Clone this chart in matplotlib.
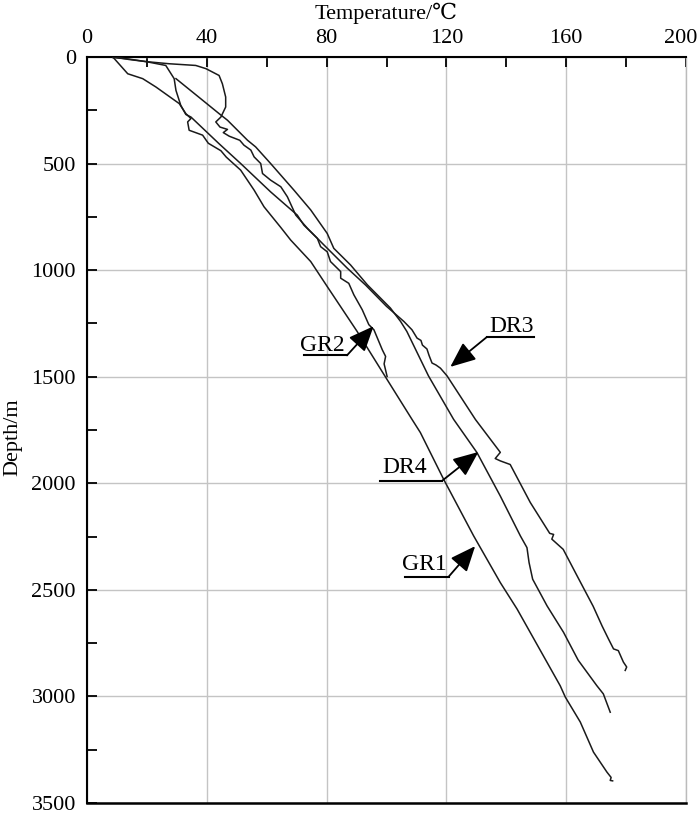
import matplotlib
matplotlib.use('Agg')
import matplotlib.pyplot as plt
import numpy as np
from matplotlib.ticker import MultipleLocator

plt.rcParams['font.family'] = ['Liberation Serif', 'DejaVu Serif', 'Noto Sans CJK SC']

# temperature (C) vs depth (m)
gr1_t = [8.6, 13.6, 18.6, 23, 30.8, 33, 34.7, 33.6, 34.1, 38.6, 40.5, 44.7, 46.5, 51.3, 55.8, 59.1,
         64.7, 68, 74.7, 80.2, 90.2, 99.6, 108.5, 111.3, 119.1, 129.1, 138, 143.6, 148, 158,
         159.7, 164.7, 169.1, 173.6, 175, 174.7, 175.5]
gr1_d = [0, 79, 102, 141, 219, 266, 289, 305, 344, 367, 405, 440, 470, 531, 625, 703,
         800, 859, 960, 1077, 1288, 1500, 1700, 1762, 1982, 2247, 2466, 2590, 2700, 2950,
         3003, 3120, 3261, 3355, 3380, 3394, 3396]

gr2_t = [8.6, 14, 19.7, 26.3, 29.1, 29.7, 31.3, 33, 34.7, 44, 51.3, 61.3, 70.2, 72.4, 76.9,
         78, 80.2, 81.3, 84.7, 84.7, 87.4, 89.1, 91.9, 94.1, 95.8, 98.6, 99.7, 99.2, 100.2]
gr2_d = [3, 10, 22, 40, 102, 157, 227, 270, 282, 406, 500, 633, 742, 789, 851,
         890, 914, 960, 1007, 1038, 1062, 1116, 1186, 1256, 1280, 1374, 1405, 1440, 1499]

dr3_t = [9, 14, 19.7, 27.4, 36.3, 39.7, 44.1, 45.2, 46.3, 46.3, 44.7, 43, 44.4, 46.9, 45.5,
         47.5, 51, 52.4, 54.7, 55.8, 58, 58.6, 61.3, 64.7, 66.9, 69.7, 73.6, 79.1, 86.9, 93,
         100, 105.8, 108.5, 110.2, 111.5, 112, 113.5, 114.2, 115.2, 116.5, 118, 120.2, 129.7,
         138, 136.3, 138, 141.3, 148, 154.5, 155.8, 155.2, 159, 163.7, 169, 172, 174.1, 175.8,
         177.4, 179.1, 180.2, 179.7]
dr3_d = [0, 12, 22, 32, 40, 55, 87, 126, 188, 235, 282, 305, 329, 340, 355,
         372, 391, 414, 437, 469, 500, 547, 578, 609, 656, 742, 804, 882, 991, 1070,
         1170, 1241, 1280, 1319, 1330, 1352, 1370, 1400, 1436, 1445, 1460, 1496, 1701,
         1855, 1884, 1895, 1912, 2090, 2235, 2240, 2262, 2310, 2436, 2577, 2670, 2730, 2777,
         2785, 2839, 2862, 2878]

dr4_t = [29.7, 37, 44.1, 46.9, 53.6, 56.3, 61.3, 69.1, 74.7, 80.2, 82.4, 88, 93.6, 101.3,
         104.7, 106.8, 114, 122.4, 130.2, 138, 144.7, 146.9, 147.6, 148.8, 153.6, 159.1, 164,
         170.2, 172.4, 174.7]
dr4_d = [102, 185, 266, 297, 391, 422, 500, 625, 718, 828, 898, 976, 1069, 1178,
         1241, 1288, 1496, 1700, 1856, 2060, 2247, 2302, 2372, 2450, 2575, 2699, 2830,
         2949, 2988, 3074]

x_ticks = [0, 40, 80, 120, 160, 200]
x_ticklabels = ['0', '40', '80', '120', '160', '200']

# label, text position, underline (x0, x1, depth), arrow tip
labels = ['GR2', 'DR3', 'DR4', 'GR1']
text_pos = [(78.7, 1353), (141.8, 1266), (105.9, 1925), (112.6, 2379)]
underline = [(72.3, 86.8, 1400), (149.1, 133.5, 1314), (97.9, 118.5, 1989), (106.3, 120.7, 2439)]
tips = [(95.7, 1263), (121.3, 1454), (130.7, 1853), (129.6, 2295)]

fig = plt.figure(figsize=(7, 8.19), dpi=100)
ax = fig.add_axes([0.1243, 0.0195, 0.8557, 0.911])

for t, d in [(gr1_t, gr1_d), (gr2_t, gr2_d), (dr3_t, dr3_d), (dr4_t, dr4_d)]:
    ax.plot(t, d, color='#1a1a1a', lw=1.1, zorder=3)

for lab, tp, ul, tip in zip(labels, text_pos, underline, tips):
    ax.text(tp[0], tp[1], lab, fontsize=17, ha='center', va='center', zorder=4)
    ax.plot([ul[0], ul[1]], [ul[2], ul[2]], color='k', lw=1.5, zorder=4)
    ax.annotate('', xy=tip, xytext=(ul[1], ul[2]),
                arrowprops=dict(arrowstyle='-|>,head_length=1.3,head_width=0.55',
                                color='k', lw=1.3, shrinkA=0, shrinkB=0,
                                mutation_scale=12), zorder=4)

ax.set_xlim(0, 200)
ax.set_ylim(3500, 0)
ax.set_xticks(x_ticks)
# last label is drawn by hand a bit to the left so it stays on the canvas
ax.set_xticklabels(x_ticklabels[:-1] + [''])
ax.annotate(x_ticklabels[-1], xy=(x_ticks[-1], 0), xytext=(-4, 6.5),
            textcoords='offset points', ha='center', va='bottom', fontsize=16,
            annotation_clip=False)
ax.xaxis.set_minor_locator(MultipleLocator(20))
ax.yaxis.set_major_locator(MultipleLocator(500))
ax.yaxis.set_minor_locator(MultipleLocator(250))
ax.xaxis.tick_top()
ax.xaxis.set_label_position('top')
ax.tick_params(which='both', direction='in', length=7, width=1.3, labelsize=16,
               top=True, bottom=False, left=True, right=False)
ax.tick_params(axis='x', pad=6.5)
ax.tick_params(axis='y', pad=8)

ax.grid(True, which='major', color='#c4c4c4', lw=1.0, zorder=0)
ax.set_axisbelow(True)

for s in ['top', 'left']:
    ax.spines[s].set_linewidth(1.5)
ax.spines['bottom'].set_linewidth(1.8)
ax.spines['right'].set_color('#bbbbbb')
ax.spines['right'].set_linewidth(1.0)

ax.set_xlabel('Temperature/℃', fontsize=16, labelpad=7)
ax.set_ylabel('Depth/m', fontsize=16)
ax.yaxis.set_label_coords(-0.108, 0.49)

plt.savefig('out.png', dpi=100)
